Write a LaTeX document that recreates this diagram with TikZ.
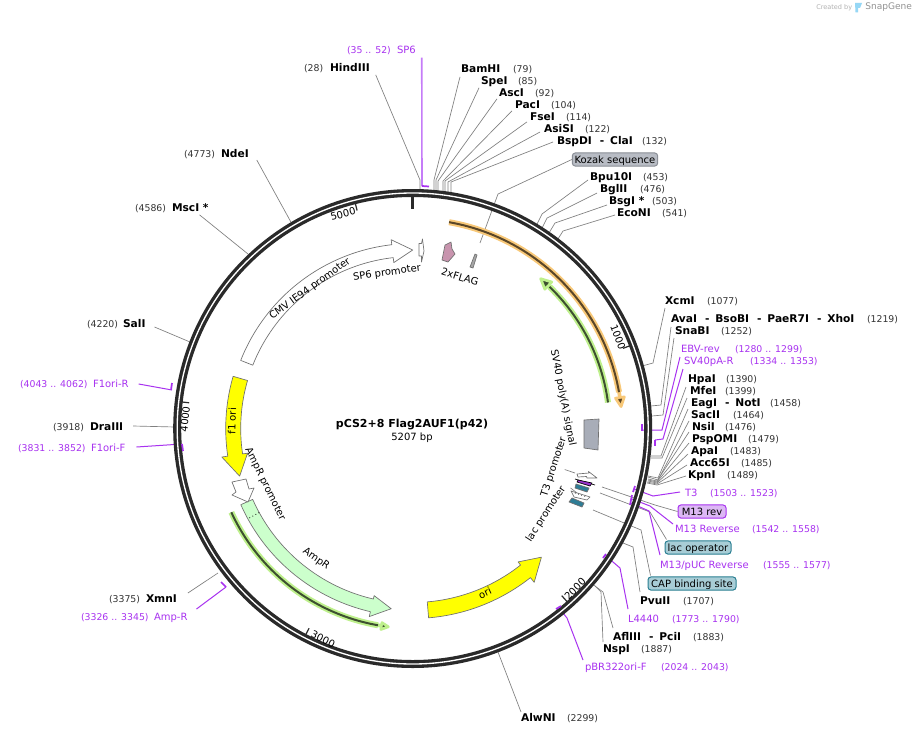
\documentclass[tikz,border=0pt]{standalone}
\usepackage{fontspec}
\setmainfont{DejaVu Sans}
\definecolor{ringc}{HTML}{2A2A2A}
\definecolor{prim}{HTML}{A832F0}
\definecolor{primsoft}{HTML}{C57CF8}
\definecolor{leadc}{HTML}{808080}
\definecolor{numc}{HTML}{333333}
\definecolor{edgec}{HTML}{707070}
\definecolor{yel}{RGB}{255,255,0}
\definecolor{koz}{RGB}{184,188,196}
\definecolor{kozb}{RGB}{138,142,150}
\definecolor{mfill}{RGB}{220,184,244}
\definecolor{lfill}{RGB}{168,205,214}
\definecolor{lbord}{RGB}{42,127,146}
\definecolor{orhalo}{RGB}{248,200,120}
\definecolor{ordark}{RGB}{90,70,40}
\definecolor{grhalo}{RGB}{190,240,140}
\definecolor{grdark}{RGB}{61,80,48}
\definecolor{snapblue}{RGB}{150,215,245}
\tikzset{
 cutlab/.style={font=\fontsize{8}{9}\selectfont\bfseries,text=black,inner sep=0pt,outer sep=0pt,anchor=west,text height=5.8pt,text depth=0pt},
 numlab/.style={font=\fontsize{7}{8}\selectfont,text=numc,inner sep=0pt,outer sep=0pt,anchor=west,text height=5.1pt,text depth=0pt},
 prlab/.style={font=\fontsize{7.5}{9}\selectfont,text=prim,inner sep=0pt,outer sep=0pt,anchor=west,text height=5.5pt,text depth=0pt},
 prnum/.style={font=\fontsize{7}{8}\selectfont,text=prim,inner sep=0pt,outer sep=0pt,anchor=west,text height=5.1pt,text depth=0pt},
 fealab/.style={font=\fontsize{7.5}{9}\selectfont,text=black,inner sep=0pt},
 ticklab/.style={font=\fontsize{7.5}{9}\selectfont,text=black,inner sep=0pt},
 boxlab/.style={font=\fontsize{7.5}{9}\selectfont,text=black,inner sep=0pt,rounded corners=2.2pt,line width=.75pt,minimum height=9.8pt,text height=5.6pt,text depth=0pt},
 cutline/.style={draw=leadc,line width=.5pt},
 primline/.style={draw=prim,line width=.75pt},
 primsoftline/.style={draw=primsoft,line width=1.2pt},
 primtick/.style={draw=prim,line width=1.3pt},
 genebox/.style={draw=edgec,line width=.5pt,line join=round},
 ticksty/.style={draw=ringc,line width=.9pt},
}
\newcommand{\enz}[6]{\node[cutlab] (#1) at (#3,#4) {#2};\node[numlab] (#1-n) at (#6,#4) {#5};}
\newcommand{\prm}[6]{\node[prlab] (#1) at (#3,#4) {#2};\node[prnum] (#1-n) at (#6,#4) {#5};}
\newcommand{\cl}[5][cutline]{\coordinate (#3) at (#4);\draw[#1] (#2) -- #5 (#3);}
\newcommand{\dd}{\hspace{.75em}-\hspace{.55em}}
% style, r1, r2, cw tail, cw head base, cw tip, head r1, head r2
\newcommand{\arcarrow}[8]{\draw[#1] plot[domain=#4:#5,samples=40,variable=\t] ({\t-90}:{#3}) -- ({#5-90}:{#8}) -- ({#6-90}:{(#2+#3)/2}) -- ({#5-90}:{#7}) -- plot[domain=#5:#4,samples=40,variable=\t] ({\t-90}:{#2}) -- cycle;}
\newcommand{\arcline}[4]{\draw[#1] plot[domain=#3:#4,samples=50,variable=\t] ({\t-90}:{#2});}
\begin{document}
\begin{tikzpicture}[x=.75pt,y=-.75pt]
\useasboundingbox (0,0) rectangle (913,735);
\fill[white] (0,0) rectangle (913,735);

% ---- labels
\enz{hindiii}{HindIII}{330}{68}{(28)}{304}
\prm{sp6}{SP6}{397}{50}{(35 .. 52)}{347}
\enz{bamhi}{BamHI}{461}{69}{(79)}{513}
\enz{spei}{SpeI}{481}{81}{(85)}{518}
\enz{asci}{AscI}{499}{93}{(92)}{535}
\enz{paci}{PacI}{515}{105}{(104)}{551}
\enz{fsei}{FseI}{530}{117}{(114)}{566}
\enz{asisi}{AsiSI}{544}{129}{(122)}{585}
\enz{bspdi}{BspDI\dd ClaI}{557}{141}{(132)}{642}
\node[boxlab,fill=koz,draw=kozb,minimum width=64pt] (kozak) at (615,159.5) {Kozak sequence};
\enz{bpu}{Bpu10I}{590}{177}{(453)}{643}
\enz{bgl}{BglII}{600}{189}{(476)}{640}
\enz{bsg}{BsgI *}{609}{201}{(503)}{652}
\enz{eco}{EcoNI}{617}{213}{(541)}{662}
\enz{xcm}{XcmI}{665}{301}{(1077)}{707}
\enz{ava}{AvaI\dd BsoBI\dd PaeR7I\dd XhoI}{671}{319}{(1219)}{867}
\enz{sna}{SnaBI}{675}{331}{(1252)}{721}
\prm{ebv}{EBV-rev}{681}{349}{(1280 .. 1299)}{735}
\prm{svr}{SV40pA-R}{684}{361}{(1334 .. 1353)}{750}
\enz{hpa}{HpaI}{688}{379}{(1390)}{726}
\enz{mfe}{MfeI}{690}{391}{(1399)}{725}
\enz{eag}{EagI\dd NotI}{691}{403}{(1458)}{770}
\enz{sac}{SacII}{691}{415}{(1464)}{733}
\enz{nsi}{NsiI}{692}{427}{(1476)}{725}
\enz{psp}{PspOMI}{692}{439}{(1479)}{748}
\enz{apa}{ApaI}{691}{451}{(1483)}{730}
\enz{acc}{Acc65I}{690}{463}{(1485)}{741}
\enz{kpn}{KpnI}{688}{475}{(1489)}{727}
\prm{tt}{T3}{685}{493}{(1503 .. 1523)}{710}
\node[boxlab,fill=mfill,draw=prim,minimum width=36pt] (mrev) at (702,511.5) {M13 rev};
\prm{mr}{M13 Reverse}{675}{529}{(1542 .. 1558)}{752}
\node[boxlab,fill=lfill,draw=lbord,minimum width=49.5pt] (lacop) at (698,547.5) {lac operator};
\prm{mp}{M13/pUC Reverse}{660}{565}{(1555 .. 1577)}{763}
\node[boxlab,fill=lfill,draw=lbord,minimum width=66pt] (cap) at (692,583.5) {CAP binding site};
\enz{pvu}{PvuII}{640}{601}{(1707)}{683}
\prm{ll}{L4440}{628}{619}{(1773 .. 1790)}{672}
\enz{afl}{AflIII\dd PciI}{613}{637}{(1883)}{693}
\enz{nsp}{NspI}{603}{649}{(1887)}{641}
\prm{pbr}{pBR322ori-F}{585}{667}{(2024 .. 2043)}{661}
\enz{alw}{AlwNI}{521}{718}{(2299)}{567}
\enz{nde}{NdeI}{221}{154}{(4773)}{184}
\enz{msc}{MscI *}{172}{208}{(4586)}{135}
\enz{sal}{SalI}{123}{324}{(4220)}{87}
\prm{fr}{F1ori-R}{93}{384}{(4043 .. 4062)}{20}
\enz{dra}{DraIII}{90}{427}{(3918)}{53}
\prm{ff}{F1ori-F}{91}{448}{(3831 .. 3852)}{18}
\enz{xmn}{XmnI}{146}{599}{(3375)}{109}
\prm{ar}{Amp-R}{154}{617}{(3326 .. 3345)}{81}

% ---- connectors
\cl{[shift={(6,3)}]hindiii.south east}{hindiii-s}{420,191}{(420,180) --}
\cl[primsoftline]{[shift={(6,4)}]sp6.south east}{sp6-s}{422,186}{}
\cl{[shift={(-1,4)}]bamhi.south west}{bamhi-s}{434,191}{(434,180) --}
\cl{[shift={(-2,3)}]spei.south west}{spei-s}{436,191}{(436,180) --}
\cl{[shift={(-2,2)}]asci.south west}{asci-s}{438,191}{(438,181) --}
\cl{[shift={(-3,2)}]paci.south west}{paci-s}{443,192}{(443,181) --}
\cl{[shift={(-3,1)}]fsei.south west}{fsei-s}{445,192}{(445,181) --}
\cl{[shift={(-4,3)}]asisi.west}{asisi-s}{448,192}{(448,182) --}
\cl{[shift={(-4,1)}]bspdi.west}{bspdi-s}{451,193}{(451,182) --}
\cl{kozak.west}{kozak-s}{480,243}{(498,194) --}
\cl{[shift={(-2,3)}]bpu.west}{bpu-s}{537,224}{(542,214) --}
\cl{[shift={(-3,4)}]bgl.west}{bgl-s}{542,228}{(547,218) --}
\cl{[shift={(-2,4)}]bsg.west}{bsg-s}{549,233}{(555,223) --}
\cl{[shift={(-2,2)}]eco.west}{eco-s}{558,239}{(563,231) --}
\cl{[shift={(0,7)}]xcm.west}{xcm-s}{642,366}{(653,363) --}
\cl{[shift={(0,8)}]ava.west}{ava-s}{651,406}{(661,405) --}
\cl{[shift={(-1,7)}]sna.west}{sna-s}{652,416}{(663,415) --}
\cl[primline]{[shift={(-1,8)}]ebv.west}{ebv-s}{642,430}{(662,430) --}
\cl[primline]{[shift={(-1,8)}]svr.west}{svr-s}{655,440}{(663,439) --}
\cl{[shift={(-2,8)}]hpa.west}{hpa-s}{651,456}{(661,456) --}
\cl{[shift={(-3,7)}]mfe.west}{mfe-s}{651,458}{(662,458) --}
\cl{[shift={(-3,6)}]eag.west}{eag-s}{648,476}{(658,478) --}
\cl{[shift={(-2,6)}]sac.west}{sac-s}{648,477}{(658,480) --}
\cl{[shift={(-3,5)}]nsi.west}{nsi-s}{648,479}{(657,481) --}
\cl{[shift={(-3,4)}]psp.west}{psp-s}{648,480}{(657,482) --}
\cl{[shift={(-3,3)}]apa.west}{apa-s}{648,481}{(657,483) --}
\cl{[shift={(-3,2)}]acc.west}{acc-s}{647,482}{(657,484) --}
\cl{[shift={(-2,1)}]kpn.west}{kpn-s}{647,483}{(657,485) --}
\cl[primline]{[shift={(-5,-1)}]tt.west}{tt-s}{634,489}{(653,496) --}
\cl{mrev.west}{mrev-s}{602,487}{(655,505) --}
\cl{[shift={(2,-1)}]lacop.north west}{lacop-s}{600,493}{(650,512) --}
\cl{[shift={(3,-1)}]cap.north west}{cap-s}{593,510}{(641,530) --}
\cl[primline]{[shift={(-2,-5)}]mr.west}{mr-s}{632,499}{(650,506) --}
\cl[primline]{[shift={(0,-10)}]mp.west}{mp-s}{631,503}{(649,511) --}
\cl{[shift={(0,-9)}]pvu.west}{pvu-s}{623,543}{(633,547) --}
\cl[primline]{[shift={(0,-10)}]ll.west}{ll-s}{606,556}{(620,568) --}
\cl{[shift={(0,-9)}]afl.west}{afl-s}{595,586}{(603,592) --}
\cl{[shift={(0,-7)}]nsp.west}{nsp-s}{594,585}{(601,592) --}
\cl[primline]{[shift={(-2,-7)}]pbr.west}{pbr-s}{559,608}{(567,618) --}
\cl{[shift={(0,-6)}]alw.west}{alw-s}{498,652}{}
\cl{[shift={(8,6)}]nde.east}{nde-s}{292,224}{}
\cl{[shift={(-9,3)}]msc.south east}{msc-s}{248,254}{}
\cl{[shift={(9,3)}]sal.east}{sal-s}{190,342}{}
\cl[primline]{[shift={(10,0)}]fr.east}{fr-s}{172,390}{}
\cl{[shift={(10,-1)}]dra.east}{dra-s}{175,427}{}
\cl[primline]{[shift={(11,-1)}]ff.east}{ff-s}{182,444}{}
\cl{[shift={(11,-6)}]xmn.east}{xmn-s}{218,573}{}
\cl[primline]{[shift={(9,-8)}]ar.east}{ar-s}{226,587}{}

% ---- ring and circular content
\begin{scope}[shift={(412.7,428.5)}]
\draw[ringc,line width=6pt] (0,0) circle[radius=235.5];
\draw[white,line width=1pt] (0,0) circle[radius=235.5];

% tracks with halo
\arcline{draw=orhalo,line width=4.5pt}{209.5}{10}{80}
\arcarrow{fill=ordark,draw=orhalo,line width=2pt,line join=round}{209}{210}{78}{81.5}{84}{205}{214}
\arcline{draw=ordark,line width=1.5pt}{209.5}{10}{80}

\arcline{draw=grhalo,line width=4.5pt}{197}{82.4}{44}
\arcarrow{fill=grdark,draw=grhalo,line width=2pt,line join=round}{196.5}{197.5}{45}{43.5}{40.5}{192}{202}
\arcline{draw=grdark,line width=1.5pt}{197}{82.4}{44}

\arcline{draw=grhalo,line width=4.5pt}{199.8}{245.2}{190}
\arcarrow{fill=grdark,draw=grhalo,line width=2pt,line join=round}{199.3}{200.3}{191}{189}{187}{196.5}{203.5}
\arcline{draw=grdark,line width=1.5pt}{199.8}{245.2}{190}

% genes
\arcarrow{genebox,fill=white}{172}{185}{291.6}{353.5}{360}{167}{190}
\arcarrow{genebox,fill=yel}{172}{187}{286.2}{261.5}{254.6}{167}{193}
\arcarrow{genebox,fill={rgb,255:red,204;green,255;blue,204}}{175}{188}{246.1}{193}{186.8}{171.5}{193}
\arcarrow{genebox,fill=yel}{174}{190}{175.2}{141.7}{135}{170}{196}
\draw[dotted,line width=.6pt,black] (151.3:175) -- (151.3:188);

% position ticks
\draw[draw=ringc,line width=2.2pt] (-90:232) -- (-90:220);
\draw[ticksty] (255.69:232) -- (255.69:225);
\draw[ticksty] (-20.86:232) -- (-20.86:225);
\draw[ticksty] (48.28:232) -- (48.28:224);
\draw[ticksty] (117.42:232) -- (117.42:225);
\draw[ticksty] (186.56:232) -- (186.56:225);
\end{scope}

% primer ticks
\draw[primtick] (422,186) -- (429,186.5);
\draw[primtick] (642,424) -- (642,431);
\draw[primtick] (655,440) -- (655,446);
\draw[primtick] (635,486) -- (633,492);
\draw[primtick] (632,495) -- (630,505);
\draw[primtick] (603,558) -- (606,554);
\draw[primtick] (556,609) -- (561,606);
\draw[primtick] (172,383) -- (171,390);
\draw[primtick] (182,444) -- (183,451);
\draw[primtick] (221,582) -- (226,587);

% small features
\draw[genebox,fill=white] (232,482) -- (246,479) -- (249,489) -- (254,488) -- (248,502) -- (232,495) -- (236,492) -- cycle;
\draw[genebox,fill=white] (419,243.5) -- (421.5,243.5) -- (422.5,239) -- (424,251) -- (421.5,262) -- (421.5,256) -- (419,256) -- cycle;
\draw[genebox,fill={rgb,255:red,200;green,148;blue,174}] (451,242) -- (452,249) -- (455,254) -- (448,262) -- (442,260) -- (445,245) -- cycle;
\draw[genebox,fill=gray!70] (475,254) -- (477,255) -- (473,268) -- (470,267) -- cycle;
\draw[genebox,fill={rgb,255:red,168;green,173;blue,184}] (584,420) -- (599,419) -- (598,450) -- (584,448) -- cycle;
\draw[genebox,fill=white] (577,474) -- (589,473) -- (588.5,471.5) -- (597,478) -- (587,478) -- (586.5,476.5) -- (578,477) -- cycle;
\draw[line width=.5pt,black] (575,479) -- (595,485);
\draw[genebox,fill={rgb,255:red,153;green,51;blue,204},draw=black] (578,480) -- (592,483) -- (590,486) -- (577,482) -- cycle;
\draw[genebox,fill={rgb,255:red,46;green,125;blue,150}] (576,484) -- (589,488) -- (587,492) -- (575,488) -- cycle;
\draw[genebox,fill=white] (571,491) -- (590,497) -- (587,500) -- (574,497) -- cycle;
\draw[black,dotted,line width=.5pt] (575,493) -- (587,497);
\draw[genebox,fill={rgb,255:red,46;green,125;blue,150}] (572,498) -- (584,503) -- (582,507) -- (569,502) -- cycle;
\coordinate (t3p-e) at (575,473);
\coordinate (lacp-e) at (577,493);

% feature labels (rotated)
\node[fealab,rotate=36] (cmvl) at (310,289) {CMV IE94 promoter};
\node[fealab,rotate=8] (sp6pl) at (387,273) {SP6 promoter};
\node[fealab,rotate=-17] (flagl) at (460,277) {2xFLAG};
\node[fealab,rotate=-79] (svl) at (563,398) {SV40 poly(A) signal};
\node[fealab,rotate=72] (t3p) at (554,467) {T3 promoter};
\node[fealab,rotate=57] (lacp) at (546,514) {lac promoter};
\node[fealab,rotate=88] (f1l) at (232,421) {f1 ori};
\node[fealab,rotate=-64] (amppl) at (265,484) {AmpR promoter};
\node[fealab,rotate=-35] (ampl) at (316,559) {AmpR};
\node[fealab,rotate=25] (oril) at (485,593) {ori};
\draw[cutline] ([shift={(6,1)}]t3p.south) -- (t3p-e);
\draw[cutline] ([shift={(7,1)}]lacp.east) -- (lacp-e);

% tick labels
\node[ticklab,rotate=14] (t5k) at (343,214) {5000};
\node[ticklab,rotate=-69] (t1k) at (618,337) {1000};
\node[ticklab,rotate=46] (t2k) at (575,589) {2000};
\node[ticklab,rotate=-27] (t3k) at (323,639) {3000};
\node[ticklab,rotate=84] (t4k) at (185,419) {4000};

% centre
\node[font=\fontsize{8.25}{9}\selectfont\bfseries,inner sep=0pt] (title) at (412,424.5) {pCS2+8 Flag2AUF1(p42)};
\node[font=\fontsize{7.5}{9}\selectfont,inner sep=0pt] (size) at (412,437.5) {5207 bp};

% credit
\node[font=\fontsize{4.9}{6}\selectfont,text=gray!60,inner sep=0pt,anchor=west] (created) at (816,7.5) {Created by};
\fill[snapblue] (855,3) -- (862,3) -- (860,8) -- (858,8) -- (858,12.5) -- (855.5,12.5) -- cycle;
\node[font=\fontsize{6.8}{8}\selectfont,text=gray!85,inner sep=0pt,anchor=west] (snap) at (865,7.5) {SnapGene};
\end{tikzpicture}
\end{document}
